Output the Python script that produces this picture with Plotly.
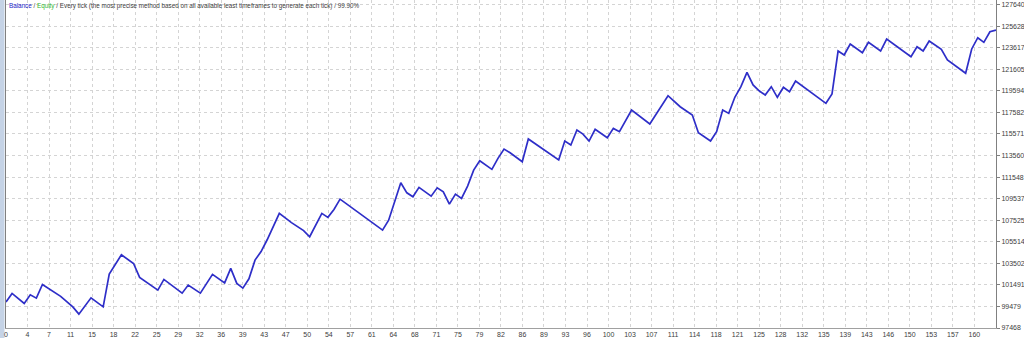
import plotly.graph_objects as go

# trade numbers where the balance curve changes direction, and balance there
trade = [0, 1, 3, 4, 5, 6, 9, 11, 12, 14, 16, 17, 19, 21, 22, 25, 26, 29, 30, 32,
         34, 36, 37, 38, 39, 40, 41, 42, 43, 44, 45, 47, 49, 50, 52, 53, 54, 55, 62, 63,
         65, 66, 67, 68, 70, 71, 72, 73, 74, 75, 76, 77, 78, 80, 81, 82, 83, 85, 86, 91,
         92, 93, 94, 95, 96, 97, 99, 100, 101, 103, 106, 109, 111, 113, 114, 116, 117, 118, 119, 120,
         121, 122, 123, 124, 125, 126, 127, 128, 129, 130, 135, 136, 137, 138, 139, 141, 142, 144, 145, 149,
         150, 151, 152, 154, 155, 158, 159, 160, 161, 162, 163]
balance = [99900, 100690, 99760, 100560, 100250, 101530, 100420, 99440, 98760, 100280,
           99440, 102490, 104300, 103490, 102190, 101000, 102000, 100720, 101470, 100720,
           102470, 101680, 103030, 101630, 101190, 102060, 103800, 104600, 105700, 106900,
           108160, 107300, 106560, 105980, 108160, 107790, 108530, 109490, 106600, 107530,
           111020, 110080, 109710, 110590, 109770, 110550, 110180, 109030, 109960, 109560,
           110710, 112200, 113070, 112270, 113290, 114160, 113820, 112980, 115100, 113140,
           114910, 114540, 115940, 115560, 114910, 116000, 115220, 116090, 115780, 117800,
           116500, 119140, 118110, 117340, 115680, 114910, 115780, 117800, 117490, 118990,
           119980, 121320, 120140, 119600, 119200, 119980, 118990, 119920, 119510, 120510,
           118430, 119300, 123310, 122940, 123960, 123150, 124120, 123310, 124430, 122780,
           123710, 123310, 124240, 123470, 122470, 121230, 123500, 124550, 124120, 125110,
           125270]

x_tick_labels = [0, 4, 7, 11, 15, 18, 22, 25, 29, 32, 36, 39, 43, 47, 50, 54, 57, 61, 64, 68,
                 71, 75, 79, 82, 86, 89, 93, 96, 100, 103, 107, 111, 114, 118, 121, 125, 128, 132,
                 135, 139, 143, 146, 150, 153, 157, 160]
y_tick_values = [97468, 99479, 101491, 103502, 105514, 107525, 109537, 111548, 113560,
                 115571, 117582, 119594, 121605, 123617, 125628, 127640]

x_max = 163
x_step = 3.543
x_tickvals = [i * x_step for i in range(len(x_tick_labels))]
y_min, y_max = 97468, 128069

FONT = "Liberation Sans"
GRID = "#d4d4d4"

fig = go.Figure()
fig.add_trace(go.Scatter(x=trade, y=balance, mode="lines",
                         line=dict(color="#2e2ec8", width=1.7),
                         hoverinfo="skip", showlegend=False))

fig.update_layout(
    width=1024, height=338,
    margin=dict(l=6, r=28, t=0, b=10),
    paper_bgcolor="white", plot_bgcolor="white",
    font=dict(family=FONT, size=7, color="#404040"),
    showlegend=False,
    xaxis=dict(range=[0, x_max], tickvals=x_tickvals,
               ticktext=[str(v) for v in x_tick_labels],
               showgrid=True, gridcolor=GRID, griddash="dot", gridwidth=1,
               zeroline=False, showline=True, linecolor="#a0a0a0", linewidth=1,
               ticks="", ticklen=0, automargin=False,
               tickfont=dict(family=FONT, size=7, color="#404040")),
    yaxis=dict(range=[y_min, y_max], side="right", tickvals=y_tick_values,
               ticktext=[str(v) for v in y_tick_values],
               showgrid=True, gridcolor=GRID, griddash="dot", gridwidth=1,
               zeroline=False, showline=True, linecolor="#808080", linewidth=1,
               mirror=True,
               ticks="outside", ticklen=3, tickcolor="#808080", automargin=False,
               tickfont=dict(family=FONT, size=7, color="#404040")),
)

# left side strip
fig.add_shape(type="rect", xref="paper", yref="paper",
              x0=-6 / 990, x1=-1.5 / 990, y0=-10 / 328, y1=1,
              fillcolor="#c5d3e6", line=dict(width=0), layer="below")

fig.add_annotation(
    xref="paper", yref="paper", x=1 / 990, y=1, xanchor="left", yanchor="top",
    showarrow=False, align="left",
    font=dict(family=FONT, size=6.3, color="#404040"),
    text=("<span style='color:#1c1cc8'>Balance</span> / "
          "<span style='color:#2fb82f'>Equity</span> / Every tick (the most precise method "
          "based on all available least timeframes to generate each tick) / 99.90%"),
)

fig.write_html("out.html")
